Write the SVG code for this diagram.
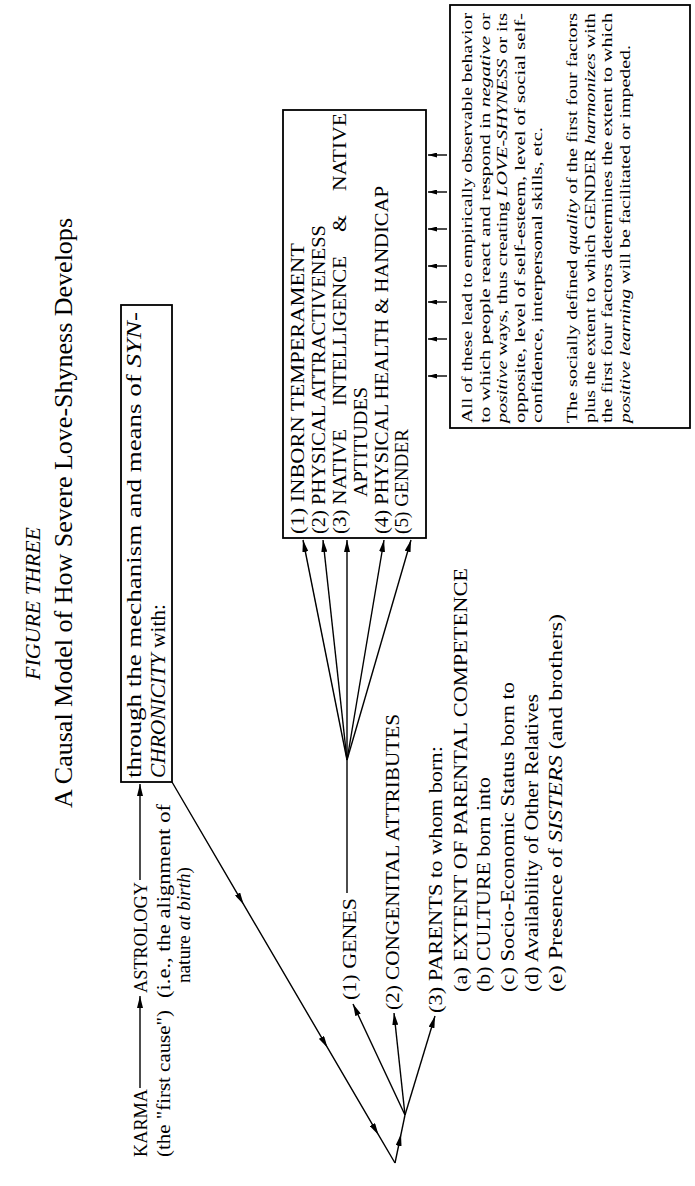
<svg xmlns="http://www.w3.org/2000/svg" width="695" height="1186" viewBox="0 0 695 1186">
<style>
text{font-family:"Liberation Serif","Times New Roman",serif;font-size:18px;fill:#000}
.ttl{font-size:25px}
.ttl1{font-size:22px;font-style:italic}
.mech{font-size:20px}
.note{font-size:15px}
.i{font-style:italic}
.box{fill:#fff;stroke:#000;stroke-width:1.8}
.c{fill:none;stroke:#000;stroke-width:1.4}
</style>
<defs>
<marker id="ah" viewBox="0 0 12 6" refX="12" refY="3" markerWidth="12" markerHeight="6" markerUnits="userSpaceOnUse" orient="auto"><path d="M0,0 L12,3 L0,6 Z" fill="#000"/></marker>
<marker id="am" viewBox="0 0 12 6" refX="7" refY="3" markerWidth="12" markerHeight="6" markerUnits="userSpaceOnUse" orient="auto"><path d="M0,0 L12,3 L0,6 Z" fill="#000"/></marker>
<marker id="as" viewBox="0 0 9 5" refX="9" refY="2.5" markerWidth="9" markerHeight="5" markerUnits="userSpaceOnUse" orient="auto"><path d="M0,0 L9,2.5 L0,5 Z" fill="#000"/></marker>
</defs>
<rect width="695" height="1186" fill="#fff"/>

<g id="title">
<text class="ttl1" transform="translate(40,680) rotate(-90)" textLength="153" lengthAdjust="spacingAndGlyphs">FIGURE THREE</text>
<text class="ttl" transform="translate(72,808) rotate(-90)" textLength="590" lengthAdjust="spacingAndGlyphs">A Causal Model of How Severe Love-Shyness Develops</text>
</g>

<g id="karma">
<text transform="translate(147,1157) rotate(-90)" textLength="68" lengthAdjust="spacingAndGlyphs">KARMA</text>
<text transform="translate(170,1157) rotate(-90)" textLength="147" lengthAdjust="spacingAndGlyphs">(the "first cause")</text>
</g>

<g id="astrology">
<text transform="translate(147,993) rotate(-90)" textLength="111" lengthAdjust="spacingAndGlyphs">ASTROLOGY</text>
<text transform="translate(170,998) rotate(-90)" textLength="194" lengthAdjust="spacingAndGlyphs">(i.e., the alignment of</text>
<text transform="translate(190,983) rotate(-90)" textLength="116" lengthAdjust="spacingAndGlyphs">nature <tspan class="i">at birth</tspan>)</text>
</g>

<g id="synchronicity">
<rect class="box" x="121" y="305" width="51" height="477"/>
<text class="mech" transform="translate(141,778) rotate(-90)" textLength="466" lengthAdjust="spacingAndGlyphs">through the mechanism and means of <tspan class="i">SYN-</tspan></text>
<text class="mech" transform="translate(165,778) rotate(-90)" textLength="174" lengthAdjust="spacingAndGlyphs"><tspan class="i">CHRONICITY</tspan> with:</text>
</g>

<g id="genes">
<text transform="translate(356,1000) rotate(-90)" textLength="102" lengthAdjust="spacingAndGlyphs">(1) GENES</text>
</g>

<g id="congenital">
<text transform="translate(399,1010) rotate(-90)" textLength="296" lengthAdjust="spacingAndGlyphs">(2) CONGENITAL ATTRIBUTES</text>
</g>

<g id="parents">
<text transform="translate(442,1013) rotate(-90)" textLength="267" lengthAdjust="spacingAndGlyphs">(3) PARENTS to whom born:</text>
<text transform="translate(467,992) rotate(-90)" textLength="424" lengthAdjust="spacingAndGlyphs">(a) EXTENT OF PARENTAL COMPETENCE</text>
<text transform="translate(490,992) rotate(-90)" textLength="215" lengthAdjust="spacingAndGlyphs">(b) CULTURE born into</text>
<text transform="translate(514,992) rotate(-90)" textLength="310" lengthAdjust="spacingAndGlyphs">(c) Socio-Economic Status born to</text>
<text transform="translate(538,992) rotate(-90)" textLength="298" lengthAdjust="spacingAndGlyphs">(d) Availability of Other Relatives</text>
<text transform="translate(562,992) rotate(-90)" textLength="378" lengthAdjust="spacingAndGlyphs">(e) Presence of <tspan class="i">SISTERS</tspan> (and brothers)</text>
</g>

<g id="factors">
<rect class="box" x="283" y="110" width="143" height="428"/>
<text transform="translate(304,534) rotate(-90)" textLength="291" lengthAdjust="spacingAndGlyphs">(1) INBORN TEMPERAMENT</text>
<text transform="translate(325,534) rotate(-90)" textLength="309" lengthAdjust="spacingAndGlyphs">(2) PHYSICAL ATTRACTIVENESS</text>
<text transform="translate(346,534) rotate(-90)" textLength="105" lengthAdjust="spacingAndGlyphs">(3) NATIVE</text>
<text transform="translate(346,406) rotate(-90)" textLength="150" lengthAdjust="spacingAndGlyphs">INTELLIGENCE</text>
<text transform="translate(346,232) rotate(-90)" textLength="17" lengthAdjust="spacingAndGlyphs">&amp;</text>
<text transform="translate(346,191) rotate(-90)" textLength="78" lengthAdjust="spacingAndGlyphs">NATIVE</text>
<text transform="translate(367,497) rotate(-90)" textLength="110" lengthAdjust="spacingAndGlyphs">APTITUDES</text>
<text transform="translate(388,534) rotate(-90)" textLength="348" lengthAdjust="spacingAndGlyphs">(4) PHYSICAL HEALTH &amp; HANDICAP</text>
<text transform="translate(408,534) rotate(-90)" textLength="105" lengthAdjust="spacingAndGlyphs">(5) GENDER</text>
</g>

<g id="outcome">
<rect class="box" x="450" y="5" width="240" height="423"/>
<text class="note" transform="translate(472,423) rotate(-90)" textLength="410" lengthAdjust="spacingAndGlyphs">All of these lead to empirically observable behavior</text>
<text class="note" transform="translate(489.5,423) rotate(-90)" textLength="410" lengthAdjust="spacingAndGlyphs">to which people react and respond in <tspan class="i">negative</tspan> or</text>
<text class="note" transform="translate(507,423) rotate(-90)" textLength="410" lengthAdjust="spacingAndGlyphs"><tspan class="i">positive</tspan> ways, thus creating <tspan class="i">LOVE-SHYNESS</tspan> or its</text>
<text class="note" transform="translate(524.5,423) rotate(-90)" textLength="410" lengthAdjust="spacingAndGlyphs">opposite, level of self-esteem, level of social self-</text>
<text class="note" transform="translate(542,423) rotate(-90)" textLength="296" lengthAdjust="spacingAndGlyphs">confidence, interpersonal skills, etc.</text>
<text class="note" transform="translate(577,423) rotate(-90)" textLength="410" lengthAdjust="spacingAndGlyphs">The socially defined <tspan class="i">quality</tspan> of the first four factors</text>
<text class="note" transform="translate(594.5,423) rotate(-90)" textLength="410" lengthAdjust="spacingAndGlyphs">plus the extent to which GENDER <tspan class="i">harmonizes</tspan> with</text>
<text class="note" transform="translate(612,423) rotate(-90)" textLength="410" lengthAdjust="spacingAndGlyphs">the first four factors determines the extent to which</text>
<text class="note" transform="translate(629.5,423) rotate(-90)" textLength="378" lengthAdjust="spacingAndGlyphs"><tspan class="i">positive learning</tspan> will be facilitated or impeded.</text>
</g>

<g id="connectors">
<path class="c" d="M140,1088 L140,996" marker-end="url(#ah)"/>
<path class="c" d="M140,880 L140,784" marker-end="url(#ah)"/>
<path class="c" d="M172,782 L241.1,900.1 L325,1043.4 L376,1130.6 L395,1163" marker-mid="url(#am)"/>
<path class="c" d="M395,1163 L400,1139 L405,1115" marker-mid="url(#am)"/>
<path class="c" d="M405,1115 L353,1004" marker-end="url(#ah)"/>
<path class="c" d="M405,1115 L394,1013" marker-end="url(#ah)"/>
<path class="c" d="M405,1115 L435,1016" marker-end="url(#ah)"/>
<path class="c" d="M347,893 L347,760"/>
<path class="c" d="M347,760 L303,540" marker-end="url(#ah)"/>
<path class="c" d="M347,760 L323,540" marker-end="url(#ah)"/>
<path class="c" d="M347,760 L347,540" marker-end="url(#ah)"/>
<path class="c" d="M347,760 L384,540" marker-end="url(#ah)"/>
<path class="c" d="M347,760 L411,540" marker-end="url(#ah)"/>
<path class="c" d="M447,155 L428,155" marker-end="url(#as)"/>
<path class="c" d="M447,192 L428,192" marker-end="url(#as)"/>
<path class="c" d="M447,229 L428,229" marker-end="url(#as)"/>
<path class="c" d="M447,266 L428,266" marker-end="url(#as)"/>
<path class="c" d="M447,302 L428,302" marker-end="url(#as)"/>
<path class="c" d="M447,339 L428,339" marker-end="url(#as)"/>
<path class="c" d="M447,376 L428,376" marker-end="url(#as)"/>
</g>
</svg>
